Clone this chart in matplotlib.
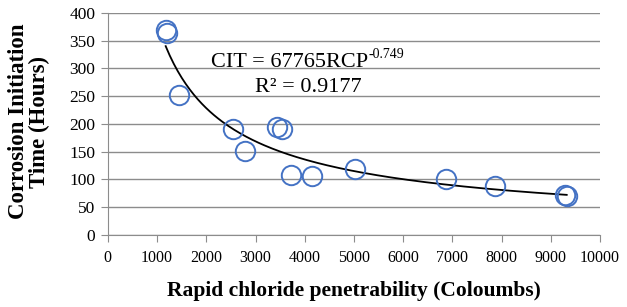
import numpy as np
import matplotlib
matplotlib.use('Agg')
import matplotlib.pyplot as plt
from matplotlib.transforms import offset_copy

plt.rcParams['font.family'] = ['Liberation Serif', 'DejaVu Serif']

rcp = [1175, 1193, 1449, 2534, 2785, 3428, 3530, 3720, 4140, 5020, 6863, 7866, 9289, 9323]
cit = [370, 364, 252, 191, 152, 195, 191, 108, 106, 118, 100, 88, 71, 70]

# power trendline from the chart
coef = 67765
expo = -0.749

fig = plt.figure(figsize=(6.27, 3.07), dpi=100)
ax = fig.add_axes([0.172, 0.235, 0.785, 0.723])

x_fit = np.linspace(min(rcp), max(rcp), 200)
ax.plot(x_fit, coef * x_fit ** expo, color='black', lw=1.3, zorder=2)
ax.plot(rcp, cit, 'o', mfc='none', mec='#4472C4', mew=1.4, ms=14, zorder=3)

ax.set_xlim(0, 10000)
ax.set_ylim(0, 400)
ax.set_xticks(np.arange(0, 10001, 1000))
ax.set_yticks(np.arange(0, 401, 50))
ax.yaxis.grid(True, color='#8c8c8c', lw=1.0)
ax.set_axisbelow(True)
for s in ['top', 'right']:
    ax.spines[s].set_visible(False)
for s in ['left', 'bottom']:
    ax.spines[s].set_color('#8c8c8c')
ax.tick_params(axis='both', colors='#8c8c8c', labelcolor='black', length=5)
ax.tick_params(axis='x', labelsize=11.5, pad=6)
ax.tick_params(axis='y', labelsize=12.5, pad=4)

ax.set_xlabel('Rapid chloride penetrability (Coloumbs)', fontsize=15.5, fontweight='bold', labelpad=11)
ax.set_ylabel('Corrosion Initiation\nTime (Hours)', fontsize=16.5, fontweight='bold', linespacing=1.0)
ax.yaxis.set_label_coords(-0.118, 0.51)

# trendline equation, superscript as its own text after the main part
eq = ax.text(2090, 302, 'CIT = 67765RCP', fontsize=16, ha='left', va='baseline')
ax.text(2990, 257, 'R² = 0.9177', fontsize=16, ha='left', va='baseline')
fig.canvas.draw()
bb = eq.get_window_extent()
x_end = ax.transData.inverted().transform((bb.x1, bb.y0))[0]
sup_tr = offset_copy(ax.transData, fig=fig, x=0.5, y=9, units='dots')
ax.text(x_end, 302, '-0.749', fontsize=10, ha='left', va='baseline', transform=sup_tr)

fig.savefig('out.png', dpi=100)
